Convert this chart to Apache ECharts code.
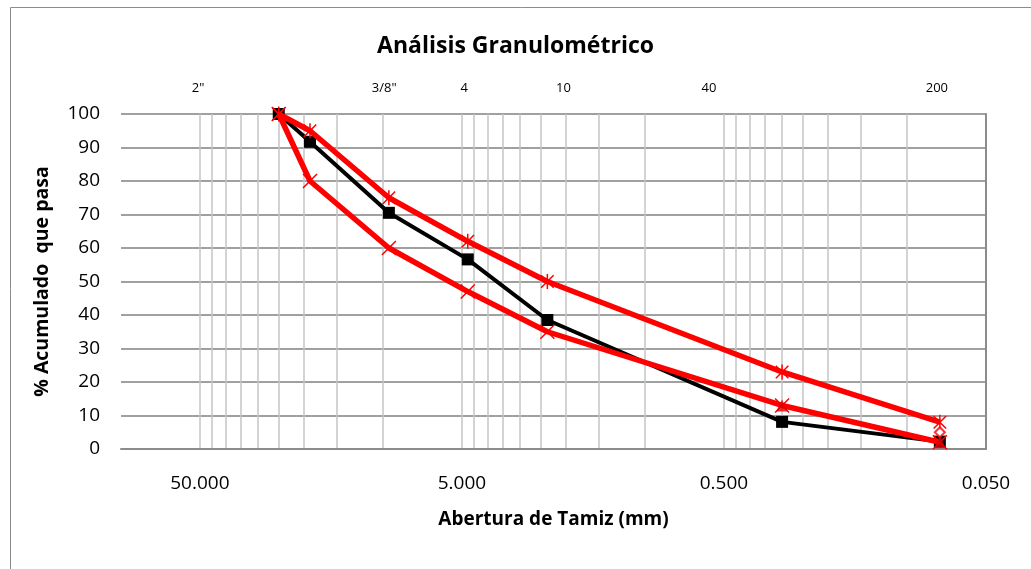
<!DOCTYPE html>
<html><head><meta charset="utf-8">
<script src="https://cdn.jsdelivr.net/npm/echarts@6/dist/echarts.min.js"></script>
<style>html,body{margin:0;padding:0;background:#fff}#c{width:1031px;height:569px}</style>
</head><body><div id="c"></div>
<script>
// ---- data (mm / % passing) ----
const sieveMM = [25.0, 19.0, 9.5, 4.75, 2.36, 0.300, 0.075];
const pasaMuestra = [100, 91.7, 70.5, 56.6, 38.5, 8.1, 2.2];
const limiteSuperior = [100, 95, 75, 62, 50, 23, 8];
const limiteInferior = [100, 80, 60, 47, 35, 13, 2];
const extraTriMM = [0.300, 0.075];
const extraTriVal = [13, 2];
const extraDiaMM = [0.075];
const extraDiaVal = [5];
const bottomTickMM = [0.05, 0.5, 5, 50];
const gridMM = [0.05,0.1,0.15,0.2,0.25,0.3,0.35,0.4,0.45,0.5,1,1.5,2,2.5,3,3.5,4,4.5,5,10,15,20,25,30,35,40,45,50];
const topLabels = ['2"', '3/8"', '4', '10', '40', '200'];
const topLabelMM = [50.8, 9.9, 4.9, 2.05, 0.57, 0.077];
const AXIS_MIN_MM = 0.05, AXIS_MAX_MM = 100;

const t = mm => Math.log10(mm / AXIS_MIN_MM);
const FONT = 'Open Sans';
const tMax = t(AXIS_MAX_MM);
const near = (a, b) => Math.abs(a - b) < 1e-6;
const bottomT = bottomTickMM.map(t);
const topT = topLabelMM.map(t);
const pts = (xs, ys) => xs.map((m, i) => [t(m), ys[i]]);

const STAR = 'path://M0,0L10,10M10,0L0,10M5,-1L5,11';
const XMARK = 'path://M0,0L10,10M10,0L0,10';

const chart = echarts.init(document.getElementById('c'), null, {renderer: 'canvas'});
chart.setOption({
  animation: false,
  backgroundColor: '#fff',
  textStyle: {fontFamily: FONT},
  title: {
    text: 'Análisis Granulométrico', left: 'center', top: 30,
    textStyle: {fontFamily: FONT, fontWeight: 'bold', fontSize: 23, color: '#000'}
  },
  graphic: [{
    type: 'rect', shape: {x: 10.5, y: 7.5, width: 1030, height: 580},
    style: {fill: 'none', stroke: '#8c8c8c', lineWidth: 1}, silent: true
  }],
  grid: {left: 121, right: 45, top: 114, bottom: 120},
  xAxis: [{
    type: 'value', min: 0, max: tMax, inverse: true, position: 'bottom',
    name: 'Abertura de Tamiz (mm)', nameLocation: 'middle', nameGap: 61,
    nameTextStyle: {fontFamily: FONT, fontWeight: 'bold', fontSize: 19, color: '#000'},
    axisLine: {show: true, onZero: false, lineStyle: {color: '#8c8c8c', width: 2}},
    axisTick: {show: false, customValues: gridMM.map(t)},
    axisLabel: {
      customValues: bottomT, margin: 25, fontSize: 19, color: '#000', fontFamily: FONT,
      formatter: v => { const i = bottomT.findIndex(b => near(b, v)); return i >= 0 ? bottomTickMM[i].toFixed(3) : ''; }
    },
    splitLine: {show: true, lineStyle: {color: '#c4c4c4', width: 1.5}}
  }, {
    type: 'value', min: 0, max: tMax, inverse: true, position: 'top',
    axisLine: {show: false}, axisTick: {show: false}, splitLine: {show: false},
    axisLabel: {
      customValues: topT, margin: 19, fontSize: 13, color: '#000', fontFamily: FONT,
      formatter: v => { const i = topT.findIndex(b => near(b, v)); return i >= 0 ? topLabels[i] : ''; }
    }
  }],
  yAxis: {
    type: 'value', min: 0, max: 100, interval: 10,
    name: '% Acumulado  que pasa', nameLocation: 'middle', nameGap: 69,
    nameTextStyle: {fontFamily: FONT, fontWeight: 'bold', fontSize: 19.5, color: '#000'},
    axisLine: {show: true, lineStyle: {color: '#8c8c8c', width: 2}},
    axisTick: {show: false},
    axisLabel: {margin: 21, fontSize: 19, color: '#000', fontFamily: FONT},
    splitLine: {show: true, lineStyle: {color: '#a0a0a0', width: 2}}
  },
  series: [{
    name: 'Muestra', type: 'line', data: pts(sieveMM, pasaMuestra),
    symbol: 'rect', symbolSize: 12, itemStyle: {color: '#000'},
    lineStyle: {color: '#000', width: 4}, z: 3
  }, {
    name: 'Límite superior', type: 'line', data: pts(sieveMM, limiteSuperior),
    symbol: STAR, symbolSize: 15, symbolKeepAspect: true,
    itemStyle: {color: 'rgba(0,0,0,0)', borderColor: '#ff0000', borderWidth: 1.5},
    lineStyle: {color: '#ff0000', width: 5.5}, z: 4
  }, {
    name: 'Límite inferior', type: 'line', data: pts(sieveMM, limiteInferior),
    symbol: XMARK, symbolSize: 14,
    itemStyle: {color: 'rgba(0,0,0,0)', borderColor: '#ff0000', borderWidth: 1.5},
    lineStyle: {color: '#ff0000', width: 5.5}, z: 4
  }, {
    name: 'tri', type: 'scatter', data: pts(extraTriMM, extraTriVal),
    symbol: 'triangle', symbolSize: 12, itemStyle: {color: '#e00000'}, z: 5
  }, {
    name: 'dia', type: 'scatter', data: pts(extraDiaMM, extraDiaVal),
    symbol: 'diamond', symbolSize: 10,
    itemStyle: {color: '#ffffff', borderColor: '#ff0000', borderWidth: 2}, z: 5
  }]
});
</script></body></html>
